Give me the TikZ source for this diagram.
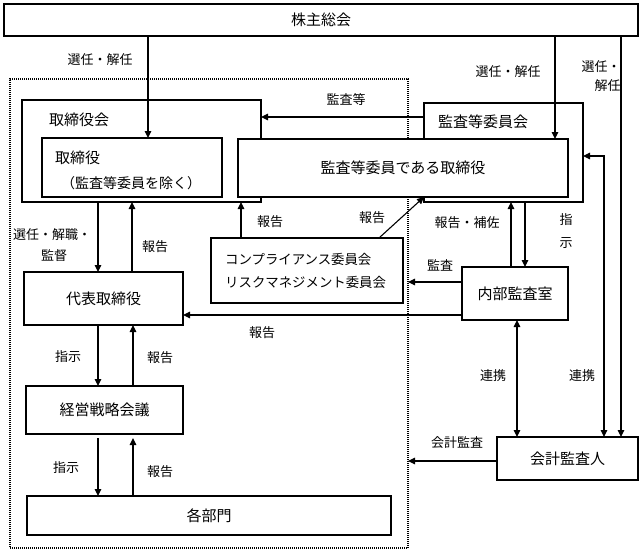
\documentclass[tikz,border=0pt]{standalone}
\usepackage{fontspec}
\setmainfont{Noto Sans CJK JP}
\usetikzlibrary{arrows.meta}
\tikzset{
  box/.style={draw, line width=1.3pt, rectangle, inner sep=0pt, outer sep=0pt, fill=white, font=\fontsize{15pt}{18pt}\selectfont},
  outerbox/.style={draw, line width=1.3pt, rectangle, inner sep=0pt, outer sep=0pt},
  dotbox/.style={draw, line width=1.2pt, dash pattern=on 1pt off 1pt, rectangle, inner sep=0pt, outer sep=0pt},
  lbl/.style={inner sep=0pt, font=\fontsize{13pt}{16pt}\selectfont},
  btxt/.style={inner sep=0pt, font=\fontsize{15pt}{18pt}\selectfont},
  arr/.style={line width=1.1pt, -{Triangle[length=7pt,width=6.5pt]}},
  darr/.style={line width=1.1pt, {Triangle[length=7pt,width=6.5pt]}-{Triangle[length=7pt,width=6.5pt]}}
}
\begin{document}
\begin{tikzpicture}[x=1pt,y=-1pt]
\fill[white] (0,0) rectangle (640,551);
\useasboundingbox (0,0) rectangle (640,551);
% boxes
\node[box, minimum width=634pt, minimum height=32pt] (kabu) at (321,20) {株主総会};
\node[dotbox, minimum width=398pt, minimum height=469pt] (dot) at (209,313.5) {};
\node[outerbox, minimum width=239pt, minimum height=102pt] (torikai) at (141.5,151) {};
\node[outerbox, minimum width=159pt, minimum height=99pt] (kansakai) at (503.5,152.5) {};
\node[box, minimum width=180pt, minimum height=59pt] (tori) at (132,167.5) {};
\node[box, minimum width=330pt, minimum height=58pt] (kansatori) at (403,168) {監査等委員である取締役};
\node[box, minimum width=159pt, minimum height=53pt] (daihyo) at (103.5,298.5) {代表取締役};
\node[box, minimum width=192pt, minimum height=65pt] (comp) at (307,270.5) {};
\node[box, minimum width=106pt, minimum height=53pt] (naibu) at (515,293.5) {内部監査室};
\node[box, minimum width=157pt, minimum height=48pt] (keiei) at (104.5,410) {経営戦略会議};
\node[box, minimum width=364pt, minimum height=39pt] (kakubu) at (209,515.5) {各部門};
\node[box, minimum width=141pt, minimum height=43pt] (kaikei) at (567.5,458.5) {会計監査人};
% texts inside boxes
\node[btxt] (t1) at (79,120) {取締役会};
\node[btxt] (t2) at (77.5,158) {取締役};
\node[inner sep=0pt, font=\fontsize{14pt}{16pt}\selectfont] (t3) at (131,183) {（監査等委員を除く）};
\node[btxt] (t4) at (483,122) {監査等委員会};
\node[inner sep=0pt, anchor=west, font=\fontsize{13.4pt}{16pt}\selectfont] (c1) at (225,259) {コンプライアンス委員会};
\node[inner sep=0pt, anchor=west, font=\fontsize{13.4pt}{16pt}\selectfont] (c2) at (225,282) {リスクマネジメント委員会};
% connectors
\draw[arr] (148,0 |- kabu.south) -- (148,0 |- tori.north);
\draw[arr] (555,0 |- kabu.south) -- (555,0 |- kansatori.north);
\draw[arr] (621,0 |- kabu.south) -- (621,0 |- kaikei.north);
\coordinate (rc) at (604,156);
\draw[darr] (kansakai.east |- rc) -- (rc) -- (rc |- kaikei.north);
\draw[arr] (kansakai.west |- 0,117) -- (torikai.east |- 0,117);
\draw[arr] (511,0 |- naibu.north) -- (511,0 |- kansakai.south);
\draw[arr] (525,0 |- kansakai.south) -- (525,0 |- naibu.north);
\draw[arr] (naibu.west |- 0,282) -- (dot.east |- 0,282);
\draw[arr] (naibu.west |- 0,315) -- (daihyo.east |- 0,315);
\draw[arr] (98,0 |- torikai.south) -- (98,0 |- daihyo.north);
\draw[arr] (132,0 |- daihyo.north) -- (132,0 |- torikai.south);
\draw[arr] (241,0 |- comp.north) -- (241,0 |- torikai.south);
\draw[arr] (379,0 |- comp.north) -- (kansatori.south -| kansakai.west);
\draw[arr] (98,0 |- daihyo.south) -- (98,0 |- keiei.north);
\draw[arr] (133,0 |- keiei.north) -- (133,0 |- daihyo.south);
\draw[arr, shorten <=4pt] (98,0 |- keiei.south) -- (98,0 |- kakubu.north);
\draw[arr, shorten >=4pt] (133,0 |- kakubu.north) -- (133,0 |- keiei.south);
\draw[arr] (kaikei.west |- 0,461) -- (dot.east |- 0,461);
\draw[darr] (517,0 |- naibu.south) -- (517,0 |- kaikei.north);
% labels
\node[lbl] (l1) at (100,60) {選任・解任};
\node[lbl] (l2) at (508,72) {選任・解任};
\node[lbl, align=right] (l3) at (601,76) {選任・\\[3pt]解任};
\node[lbl] (l4) at (346,100) {監査等};
\node[lbl] (l5) at (467,223) {報告・補佐};
\node[lbl] (l6) at (566,220) {指};
\node[lbl] (l7) at (566,243) {示};
\node[lbl] (l8) at (440,265) {監査};
\node[lbl] (l9) at (372,218) {報告};
\node[lbl] (l10) at (270,222) {報告};
\node[lbl] (l11) at (52,235) {選任・解職・};
\node[lbl] (l12) at (54,256) {監督};
\node[lbl] (l13) at (155,247) {報告};
\node[lbl] (l14) at (262,333) {報告};
\node[lbl] (l15) at (68,357) {指示};
\node[lbl] (l16) at (160,358) {報告};
\node[lbl] (l17) at (66,468) {指示};
\node[lbl] (l18) at (160,472) {報告};
\node[lbl] (l19) at (457,443) {会計監査};
\node[lbl] (l20) at (493,376) {連携};
\node[lbl] (l21) at (582,376) {連携};
\end{tikzpicture}
\end{document}
